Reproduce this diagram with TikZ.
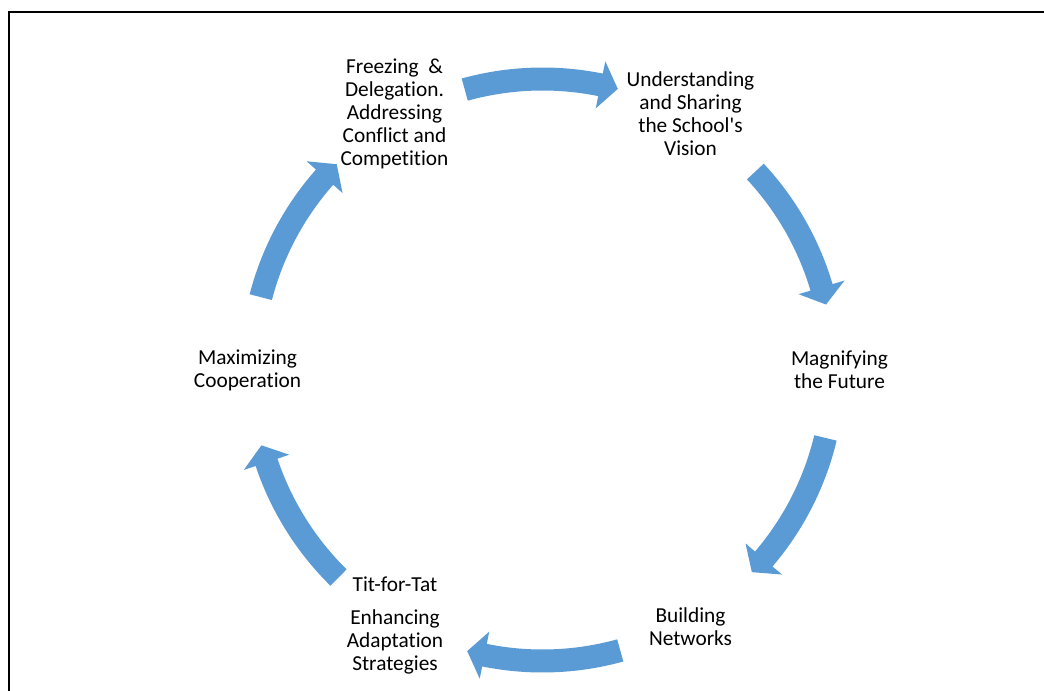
\documentclass[tikz,border=0pt]{standalone}
\usepackage{fontspec}
\setmainfont{Carlito}[Ligatures=NoCommon]
\usepackage{xcolor}
\usetikzlibrary{calc}
\definecolor{cycblue}{HTML}{5B9BD5}

\begin{document}
\begin{tikzpicture}[x=0.75pt, y=0.75pt,
    cyc/.style={fill=cycblue},
    stage/.style={align=center, inner sep=0pt, font=\fontsize{16}{17.25}\selectfont}]
  \useasboundingbox (0,0) rectangle (1044,690);
  \draw[line width=1.5pt] (9,-5) -- (9,678) -- (1050,678);
  \coordinate (c) at (542.5,320);
  % stages
  \node[stage] (freeze) at ($(c)+(120:296)$) {Freezing\ \ \&\\Delegation.\\Addressing\\Conflict and\\Competition};
  \node[stage] (vision) at ($(c)+(60:296)$) {Understanding\\and Sharing\\the School\textquotesingle s\\Vision};
  \node[stage] (future) at ($(c)+(0:297)$) {Magnifying\\the Future};
  \node[stage] (network) at ($(c)+(-60:296)$) {Building\\Networks};
  \node[stage] (titfortat) at ($(c)+(-120:295)$) {Tit-for-Tat\\[8pt]Enhancing\\Adaptation\\Strategies};
  \node[stage] (coop) at ($(c)+(180:295)$) {Maximizing\\Cooperation};
  % arrows
  \fill[cyc] ($(c)+(105.5:302.5)$) arc[start angle=105.5, end angle=78.5, radius=302.5]
    -- ($(c)+(78.5:315)$) -- ($(c)+(75:291)$) -- ($(c)+(78.5:267)$)
    -- ($(c)+(78.5:279.5)$) arc[start angle=78.5, end angle=105.5, radius=279.5] -- cycle;
  \fill[cyc] ($(c)+(43:302.5)$) arc[start angle=43, end angle=16.5, radius=302.5]
    -- ($(c)+(16.5:315)$) -- ($(c)+(13:291)$) -- ($(c)+(16.5:267)$)
    -- ($(c)+(16.5:279.5)$) arc[start angle=16.5, end angle=43, radius=279.5] -- cycle;
  \fill[cyc] ($(c)+(-13.5:302.5)$) arc[start angle=-13.5, end angle=-40.5, radius=302.5]
    -- ($(c)+(-40.5:315)$) -- ($(c)+(-44:291)$) -- ($(c)+(-40.5:267)$)
    -- ($(c)+(-40.5:279.5)$) arc[start angle=-40.5, end angle=-13.5, radius=279.5] -- cycle;
  \fill[cyc] ($(c)+(-74.5:302.5)$) arc[start angle=-74.5, end angle=-101.5, radius=302.5]
    -- ($(c)+(-101.5:315)$) -- ($(c)+(-105:291)$) -- ($(c)+(-101.5:267)$)
    -- ($(c)+(-101.5:279.5)$) arc[start angle=-101.5, end angle=-74.5, radius=279.5] -- cycle;
  \fill[cyc] ($(c)+(-134.5:302.5)$) arc[start angle=-134.5, end angle=-161.5, radius=302.5]
    -- ($(c)+(-161.5:315)$) -- ($(c)+(-165:291)$) -- ($(c)+(-161.5:267)$)
    -- ($(c)+(-161.5:279.5)$) arc[start angle=-161.5, end angle=-134.5, radius=279.5] -- cycle;
  \fill[cyc] ($(c)+(165.5:302.5)$) arc[start angle=165.5, end angle=138.5, radius=302.5]
    -- ($(c)+(138.5:315)$) -- ($(c)+(135:291)$) -- ($(c)+(138.5:267)$)
    -- ($(c)+(138.5:279.5)$) arc[start angle=138.5, end angle=165.5, radius=279.5] -- cycle;
\end{tikzpicture}
\end{document}
